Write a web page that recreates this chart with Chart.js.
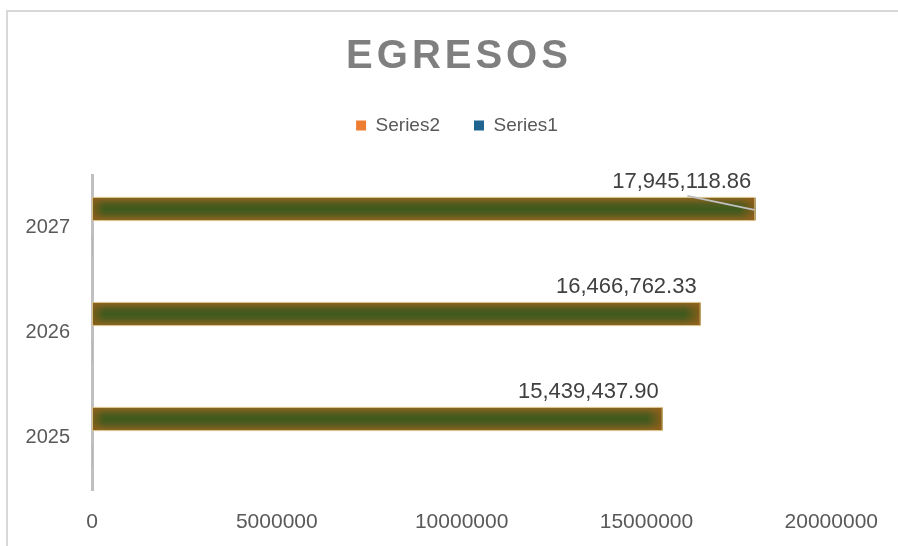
<!DOCTYPE html>
<html>
<head>
<meta charset="utf-8">
<script src="https://cdn.jsdelivr.net/npm/chart.js@4"></script>
<style>
  html, body { margin: 0; padding: 0; background: #fff; }
  #wrap { width: 898px; height: 546px; position: relative; }
</style>
</head>
<body>
<div id="wrap"><canvas id="egresosChart" width="898" height="546"></canvas></div>
<script>
// datos del grafico
const years = ['2025', '2026', '2027'];
const series2 = [15439437.90, 16466762.33, 17945118.86];
const series1 = [2025, 2026, 2027];
const xTicks = [0, 5000000, 10000000, 15000000, 20000000];
const legendColors = ['#ed7d31', '#1f6391'];

const FONT = "'Liberation Sans', Arial, sans-serif";

// titulo con espaciado de letras + marco
const titlePlugin = {
  id: 'titleAndFrame',
  beforeDraw(chart) {
    const ctx = chart.ctx;
    ctx.save();
    ctx.strokeStyle = '#d9d9d9';
    ctx.lineWidth = 2;
    ctx.beginPath();
    ctx.moveTo(7, 560);
    ctx.lineTo(7, 11);
    ctx.lineTo(910, 11);
    ctx.stroke();
    ctx.restore();
  },
  afterDraw(chart) {
    const ctx = chart.ctx;
    ctx.save();
    ctx.font = 'bold 40px ' + FONT;
    ctx.letterSpacing = '4px';
    ctx.fillStyle = '#7f7f7f';
    ctx.textAlign = 'center';
    ctx.textBaseline = 'middle';
    ctx.fillText('EGRESOS', 459, 57);
    ctx.restore();
  }
};

// espacio extra debajo de la leyenda, y centrarla en todo el ancho
const legendMargin = {
  id: 'legendMargin',
  beforeInit(chart) {
    const fitValue = chart.legend.fit;
    chart.legend.fit = function fit() {
      fitValue.bind(chart.legend)();
      this.height += 30;
    };
  },
  afterLayout(chart) {
    chart.legend.left += 38;
    chart.legend.right += 38;
  }
};

// relleno degradado de las barras y etiquetas de datos
const barLook = {
  id: 'barLook',
  afterDatasetsDraw(chart) {
    const ctx = chart.ctx;
    const meta = chart.getDatasetMeta(0);
    meta.data.forEach((bar, i) => {
      const { x, y, base, height } = bar.getProps(['x', 'y', 'base', 'height']);
      const top = y - height / 2;
      ctx.save();
      const g = ctx.createLinearGradient(0, top, 0, top + height);
      g.addColorStop(0, '#8a6420');
      g.addColorStop(0.3, '#4f5a1e');
      g.addColorStop(0.5, '#3e5a1c');
      g.addColorStop(0.7, '#4f5a1e');
      g.addColorStop(1, '#8a6420');
      ctx.fillStyle = g;
      ctx.fillRect(base, top, x - base, height);
      const h = ctx.createLinearGradient(base, 0, x, 0);
      const w = x - base;
      h.addColorStop(0, 'rgba(140,95,25,0.8)');
      h.addColorStop(12 / w, 'rgba(140,95,25,0)');
      h.addColorStop(1 - 16 / w, 'rgba(140,95,25,0)');
      h.addColorStop(1, 'rgba(150,95,25,0.85)');
      ctx.fillStyle = h;
      ctx.fillRect(base, top, w, height);
      ctx.strokeStyle = '#d8bf86';
      ctx.lineWidth = 1;
      ctx.strokeRect(base + 0.5, top - 0.5, w - 1, height + 1);

      const value = chart.data.datasets[0].data[i];
      const label = value.toLocaleString('en-US', { minimumFractionDigits: 2, maximumFractionDigits: 2 });
      ctx.font = '22px ' + FONT;
      ctx.fillStyle = '#404040';
      ctx.textAlign = 'right';
      ctx.textBaseline = 'middle';
      ctx.fillText(label, x - 4, top - 16);
      if (i === years.length - 1) {
        ctx.strokeStyle = '#bfbfbf';
        ctx.lineWidth = 2;
        ctx.beginPath();
        ctx.moveTo(x - 68, top - 2);
        ctx.lineTo(x - 1, top + 12);
        ctx.stroke();
      }
      ctx.restore();
    });
  }
};

const ctx = document.getElementById('egresosChart').getContext('2d');
const chart = new Chart(ctx, {
  type: 'bar',
  data: {
    labels: years,
    datasets: [
      {
        label: 'Series2',
        data: series2,
        backgroundColor: '#4a5a1e',
        borderWidth: 0,
        categoryPercentage: 0.705,
        barPercentage: 0.6
      },
      {
        label: 'Series1',
        data: series1,
        backgroundColor: '#1f6391',
        borderWidth: 0,
        categoryPercentage: 0.705,
        barPercentage: 0.6
      }
    ]
  },
  options: {
    indexAxis: 'y',
    responsive: false,
    animation: false,
    layout: { padding: { top: 82, right: 60, bottom: 12, left: 0 } },
    plugins: {
      title: { display: false },
      tooltip: { enabled: false },
      legend: {
        position: 'top',
        labels: {
          font: { family: FONT, size: 19 },
          color: '#595959',
          boxWidth: 10,
          boxHeight: 10,
          padding: 34,
          generateLabels(c) {
            return c.data.datasets.map((ds, i) => ({
              text: ds.label,
              fillStyle: legendColors[i],
              strokeStyle: legendColors[i],
              lineWidth: 0,
              fontColor: '#595959',
              datasetIndex: i
            }));
          }
        }
      }
    },
    scales: {
      x: {
        min: 0,
        max: 20000000,
        afterBuildTicks(scale) {
          scale.ticks = xTicks.map(v => ({ value: v }));
        },
        afterFit(scale) { scale.height = 44; },
        ticks: {
          font: { family: FONT, size: 21 },
          color: '#595959',
          padding: 20,
          maxRotation: 0,
          callback: v => String(v)
        },
        grid: { display: false, drawTicks: false },
        border: { display: false }
      },
      y: {
        reverse: true,
        afterFit(scale) { scale.width = 92; },
        ticks: {
          font: { family: FONT, size: 20 },
          color: '#595959',
          padding: 22
        },
        grid: { display: false, drawTicks: false },
        border: { display: true, color: '#c0c0c0', width: 3 }
      }
    }
  },
  plugins: [titlePlugin, legendMargin, barLook]
});
</script>
</body>
</html>
